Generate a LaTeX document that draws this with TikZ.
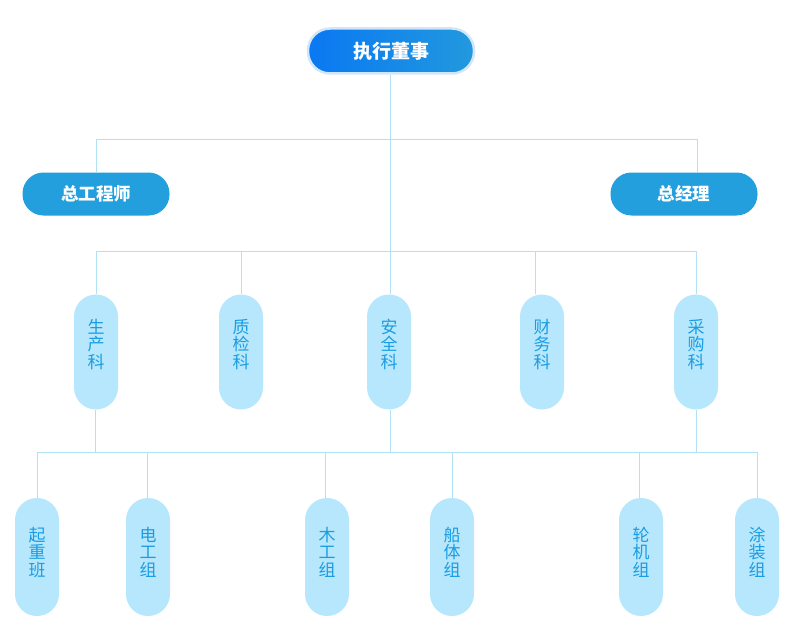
\documentclass[tikz,border=0pt]{standalone}
\usepackage{fontspec}
\newfontfamily\cjk{Noto Sans CJK SC}
\definecolor{topL}{HTML}{0A78F2}
\definecolor{topR}{HTML}{2299DE}
\definecolor{topRim}{HTML}{D2E6FA}
\definecolor{midBlue}{HTML}{229FDC}
\definecolor{paleBlue}{HTML}{B6E7FC}
\definecolor{inkBlue}{HTML}{1A9CE2}
\definecolor{wire}{HTML}{B0E2F6}
\newcommand\vstack[3]{\vbox{\baselineskip=17.5pt\lineskiplimit=-\maxdimen
    \hbox{#1}\hbox{#2}\hbox{#3}}}
\begin{document}
\begin{tikzpicture}[x=1pt, y=-1pt,
        head/.style={rectangle, rounded corners=22pt, minimum width=166pt, minimum height=45pt,
            left color=topL, right color=topR, draw=topRim, line width=2.5pt,
            text=white, font=\cjk\fontsize{19}{19}\selectfont\bfseries},
        chief/.style={rectangle, rounded corners=21pt, minimum width=147pt, minimum height=43pt,
            fill=midBlue, text=white, font=\cjk\fontsize{17.5}{18}\selectfont\bfseries},
        unit/.style={rectangle, rounded corners=22pt, minimum width=44pt, minimum height=115pt,
            fill=paleBlue, text=inkBlue, inner sep=0pt, text height=52pt, text depth=20pt,
            font=\cjk\fontsize{17}{17.5}\selectfont},
        team/.style={unit, minimum height=118pt, text height=58pt},
        link/.style={draw=wire, line width=0.8pt}
    ]
        \useasboundingbox (0,0) rectangle (793,642);
        % top
        \node[head] (ceo) at (391,51) {执行董事};
        \node[chief] (cto) at (96,194) {总工程师};
        \node[chief] (gm) at (684,194) {总经理};
        % departments
        \node[unit] (prod) at (96,352) {\vstack{生}{产}{科}};
        \node[unit] (qc) at (241,352) {\vstack{质}{检}{科}};
        \node[unit] (safe) at (389,352) {\vstack{安}{全}{科}};
        \node[unit] (fin) at (542,352) {\vstack{财}{务}{科}};
        \node[unit] (buy) at (696,352) {\vstack{采}{购}{科}};
        % teams
        \node[team] (crane) at (37,557) {\vstack{起}{重}{班}};
        \node[team] (elec) at (148,557) {\vstack{电}{工}{组}};
        \node[team] (wood) at (327,557) {\vstack{木}{工}{组}};
        \node[team] (hull) at (452,557) {\vstack{船}{体}{组}};
        \node[team] (eng) at (641,557) {\vstack{轮}{机}{组}};
        \node[team] (paint) at (757,557) {\vstack{涂}{装}{组}};
        % buses
        \coordinate (busA) at (390,139);
        \coordinate (busB) at (390,251);
        \coordinate (busC) at (390,452);
        \draw[link] ([xshift=-1pt]ceo.south) -- ([xshift=1pt]safe.north);
        \draw[link] (cto.north) |- (busA);
        \draw[link] ([xshift=13pt]gm.north) |- (busA);
        \draw[link] (prod.north) |- (busB);
        \draw[link] (qc.north) -- (qc.north |- busB);
        \draw[link] ([xshift=-7pt]fin.north) -- ([xshift=-7pt]fin.north |- busB);
        \draw[link] (buy.north) |- (busB);
        \draw[link] ([xshift=-1pt]prod.south) |- (busC);
        \draw[link] ([xshift=1pt]safe.south) -- (busC);
        \draw[link] (buy.south) |- (busC);
        \draw[link] (crane.north) |- (busC);
        \draw[link] (paint.north) |- (busC);
        \draw[link] ([xshift=-1pt]elec.north) -- ([xshift=-1pt]elec.north |- busC);
        \draw[link] ([xshift=-2pt]wood.north) -- ([xshift=-2pt]wood.north |- busC);
        \draw[link] (hull.north) -- (hull.north |- busC);
        \draw[link] ([xshift=-2pt]eng.north) -- ([xshift=-2pt]eng.north |- busC);
    \end{tikzpicture}
\end{document}
